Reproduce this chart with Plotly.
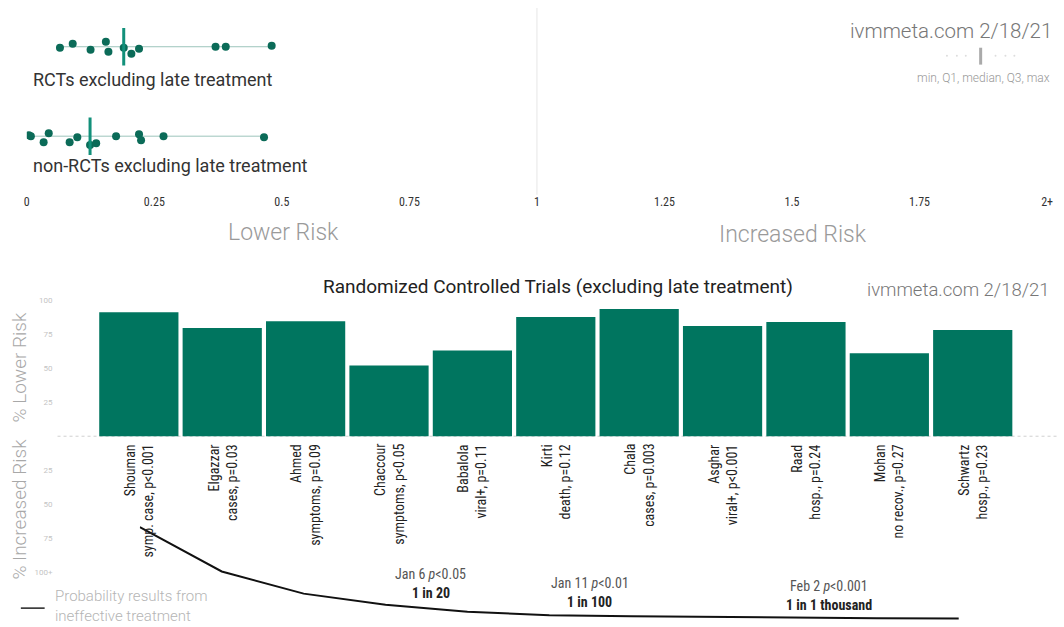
import plotly.graph_objects as go
import numpy as np

W, H = 1064, 627

# ---------------- data ----------------
studies = ["Shouman", "Elgazzar", "Ahmed", "Chaccour", "Babalola", "Kirti",
           "Chala", "Asghar", "Raad", "Mohan", "Schwartz"]
outcomes = ["symp. case, p<0.001", "cases, p=0.03", "symptoms, p=0.09",
            "symptoms, p<0.05", "viral+, p=0.11", "death, p=0.12",
            "cases, p=0.003", "viral+, p<0.001", "hosp., p=0.24",
            "no recov., p=0.27", "hosp., p=0.23"]
pct_lower = [91, 79.5, 84.5, 52, 63, 87.5, 93.5, 81, 84, 61, 78]
cum_p = [0.33, 0.17, 0.09, 0.05, 0.025, 0.012, 0.008, 0.005, 0.003, 0.0015, 0.0005]

rct_rr = sorted(round(1 - v / 100, 3) for v in pct_lower)
nonrct_rr = [0.004, 0.008, 0.033, 0.043, 0.084, 0.099, 0.124, 0.136, 0.175,
             0.220, 0.224, 0.268, 0.465]

top_ticks = [0, 0.25, 0.5, 0.75, 1, 1.25, 1.5, 1.75, 2]
top_ticktext = ["0", "0.25", "0.5", "0.75", "1", "1.25", "1.5", "1.75", "2+"]
bar_ticks = [100, 75, 50, 25, -25, -50, -75, -100]
bar_ticktext = ["100", "75", "50", "25", "25", "50", "75", "100+"]

milestones = [("Jan 6 <i>p</i><0.05", "1 in 20", 3.5, 574),
              ("Jan 11 <i>p</i><0.01", "1 in 100", 5.41, 583),
              ("Feb 2 <i>p</i><0.001", "1 in 1 thousand", 8.28, 586)]

# jitter (style only, in pixel offsets)
rct_jit = [-1, 3, -3, 5, -5, -1, -7, -2, 0, 0, 1]
nonrct_jit = [1, 0, -6, 3, -6, -1, -9, -7, 0, 2, -4, 0, -1]

# ---------------- styles ----------------
BAR = "#00755f"
DOT = "#0b6b58"
MED = "#12907a"
FONT = "Roboto"
COND = "Roboto Condensed, Liberation Sans Narrow, DejaVu Sans Condensed, Roboto"


def py(p):
    return 1 - p / H


def px(p):
    return p / W


fig = go.Figure()

# ---------- top strip panel ----------
rows = [(1, rct_rr, rct_jit), (0, nonrct_rr, nonrct_jit)]
for r, vals, jit in rows:
    fig.add_trace(go.Scatter(x=[min(vals), max(vals)], y=[r, r], mode="lines",
                             line=dict(color="#9cc4bb", width=1),
                             xaxis="x", yaxis="y", hoverinfo="skip", showlegend=False))
    fig.add_trace(go.Scatter(x=vals, y=[r + j / 90 for j in jit], mode="markers",
                             marker=dict(color=DOT, size=8),
                             xaxis="x", yaxis="y", showlegend=False))

shapes = []
for r, vals, _ in rows:
    m = float(np.median(vals))
    shapes.append(dict(type="line", xref="x", yref="y", x0=m, x1=m, y0=r - 0.21, y1=r + 0.21,
                       line=dict(color=MED, width=3)))
# x=1 reference line
shapes.append(dict(type="line", xref="x", yref="paper", x0=1, x1=1, y0=py(192), y1=py(4),
                   line=dict(color="#e6e6e6", width=1)))

# ---------- bottom bar panel ----------
n = len(studies)
fig.add_trace(go.Bar(x=studies, y=pct_lower, marker=dict(color=BAR, line=dict(width=0)),
                     xaxis="x2", yaxis="y2", showlegend=False))
fig.add_trace(go.Scatter(x=list(range(n)), y=cum_p, mode="lines", line=dict(color="#111", width=2),
                         xaxis="x3", yaxis="y3", showlegend=False))

# zero line dotted
shapes.append(dict(type="line", xref="paper", yref="y2", x0=px(55), x1=px(1064), y0=0, y1=0,
                   line=dict(color="#d0d0d0", width=1, dash="dot"), layer="below"))
# legend line
shapes.append(dict(type="line", xref="paper", yref="paper", x0=px(18), x1=px(42),
                   y0=py(608), y1=py(608), line=dict(color="#222", width=1.5)))
# mini legend of top panel
shapes.append(dict(type="line", xref="paper", yref="paper", x0=px(986), x1=px(986),
                   y0=py(61), y1=py(44), line=dict(color="#aaaaaa", width=3)))
for xx in [952, 962, 971, 1001, 1011, 1020]:
    shapes.append(dict(type="circle", xref="paper", yref="paper",
                       x0=px(xx - 1), x1=px(xx + 1), y0=py(53), y1=py(51),
                       line=dict(width=0), fillcolor="#dddddd"))

annotations = []
annotations.append(dict(text="RCTs excluding late treatment", xref="paper", yref="paper",
                        x=px(28), y=py(76), xanchor="left", yanchor="middle", showarrow=False,
                        font=dict(family=FONT, size=18, color="#333")))
annotations.append(dict(text="non-RCTs excluding late treatment", xref="paper", yref="paper",
                        x=px(28), y=py(163), xanchor="left", yanchor="middle", showarrow=False,
                        font=dict(family=FONT, size=18, color="#333")))
annotations.append(dict(text="Lower Risk", xref="paper", yref="paper", x=px(283), y=py(230),
                        xanchor="center", yanchor="middle", showarrow=False,
                        font=dict(family=FONT, size=23, color="#9a9a9a", weight=300)))
annotations.append(dict(text="Increased Risk", xref="paper", yref="paper", x=px(797), y=py(232),
                        xanchor="center", yanchor="middle", showarrow=False,
                        font=dict(family=FONT, size=23, color="#9a9a9a", weight=300)))
annotations.append(dict(text="ivmmeta.com 2/18/21", xref="paper", yref="paper", x=px(1060), y=py(27),
                        xanchor="right", yanchor="middle", showarrow=False,
                        font=dict(family=FONT, size=20.5, color="#777", weight=300)))
annotations.append(dict(text="min, Q1, median, Q3, max", xref="paper", yref="paper", x=px(1058), y=py(74),
                        xanchor="right", yanchor="middle", showarrow=False,
                        font=dict(family=FONT, size=12, color="#999", weight=300)))
annotations.append(dict(text="Randomized Controlled Trials (excluding late treatment)",
                        xref="paper", yref="paper", x=px(560), y=py(284),
                        xanchor="center", yanchor="middle", showarrow=False,
                        font=dict(family=FONT, size=19, color="#222")))
annotations.append(dict(text="ivmmeta.com 2/18/21", xref="paper", yref="paper", x=px(1058), y=py(288),
                        xanchor="right", yanchor="middle", showarrow=False,
                        font=dict(family=FONT, size=18.5, color="#777", weight=300)))
annotations.append(dict(text="% Lower Risk", xref="paper", yref="paper", x=px(17), y=py(365),
                        xanchor="center", yanchor="middle", textangle=-90, showarrow=False,
                        font=dict(family=FONT, size=19, color="#a8a8a8", weight=300)))
annotations.append(dict(text="% Increased Risk", xref="paper", yref="paper", x=px(17), y=py(508),
                        xanchor="center", yanchor="middle", textangle=-90, showarrow=False,
                        font=dict(family=FONT, size=19, color="#a8a8a8", weight=300)))
annotations.append(dict(text="Probability results from<br>ineffective treatment",
                        xref="paper", yref="paper", x=px(50), y=py(606),
                        xanchor="left", yanchor="middle", align="left", showarrow=False,
                        font=dict(family=FONT, size=15, color="#b5b5b5", weight=300)))

for s, o in zip(studies, outcomes):
    annotations.append(dict(text=f"{s}<br>{o}", xref="x2", yref="paper", x=s, y=py(441),
                            xanchor="center", yanchor="top", textangle=-90, align="right",
                            showarrow=False, font=dict(family=COND, size=14, color="#222")))

for t1, t2, xc, yy in milestones:
    annotations.append(dict(text=t1, xref="x2", yref="paper", x=xc, y=py(yy),
                            xanchor="center", yanchor="middle", showarrow=False,
                            font=dict(family=COND, size=14, color="#555")))
    annotations.append(dict(text=f"<b>{t2}</b>", xref="x2", yref="paper", x=xc, y=py(yy + 19),
                            xanchor="center", yanchor="middle", showarrow=False,
                            font=dict(family=COND, size=14, color="#222")))

# axis geometry
bar_c0, bar_pitch = 137, 84.1
x2_dom = [px(bar_c0 - bar_pitch / 2), px(bar_c0 + bar_pitch * (n - 0.5))]
zero_px, unit_px = 435, 1.37
y_lo = -138
y2_dom = [py(zero_px - y_lo * unit_px), py(zero_px - 100 * unit_px)]
span_px = (zero_px - y_lo * unit_px) - (zero_px - 100 * unit_px)
p_zero_px, p_unit_px = 618.5, 278.8
bottom_px = zero_px - y_lo * unit_px
p_lo = -(bottom_px - p_zero_px) / p_unit_px
p_hi = p_lo + span_px / p_unit_px

fig.update_layout(
    width=W, height=H, margin=dict(l=0, r=0, t=0, b=0),
    paper_bgcolor="white", plot_bgcolor="rgba(0,0,0,0)",
    font=dict(family=FONT),
    bargap=0.05,
    xaxis=dict(domain=[px(24), px(1053)], range=[0, 2], anchor="y",
               tickvals=top_ticks, ticktext=top_ticktext, showgrid=False, zeroline=False,
               showline=False, ticks="", tickfont=dict(family=COND, size=12, color="#333"),
               fixedrange=True),
    yaxis=dict(domain=[py(190), py(8)], range=[-0.633, 1.389], visible=False, fixedrange=True),
    xaxis2=dict(domain=x2_dom, range=[-0.5, n - 0.5], type="category", anchor="y2",
                showticklabels=False, showgrid=False, zeroline=False, showline=False, ticks=""),
    xaxis3=dict(domain=[px(138), px(964)], range=[0, n - 1], anchor="y3", visible=False),
    yaxis2=dict(domain=y2_dom, range=[y_lo, 100], anchor="free", position=px(50),
                tickvals=bar_ticks, ticktext=bar_ticktext, showgrid=False, zeroline=False,
                showline=False, ticks="", tickfont=dict(size=8, color="#c4c4c4")),
    yaxis3=dict(overlaying="y2", range=[p_lo, p_hi], visible=False, anchor="x3"),
    shapes=shapes, annotations=annotations,
)

fig.write_html("out.html", config={"displayModeBar": False},
               post_script="document.body.style.margin='0';document.body.style.overflow='hidden';")
